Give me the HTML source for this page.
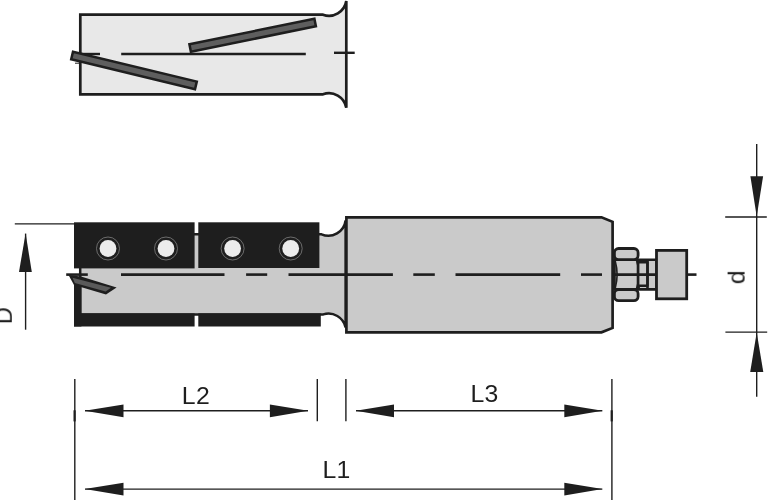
<!DOCTYPE html>
<html>
<head>
<meta charset="utf-8">
<title>Tool drawing</title>
<style>
html,body{margin:0;padding:0;background:#fff;}
body{width:779px;height:500px;overflow:hidden;font-family:"Liberation Sans",sans-serif;}
svg{display:block;}
text{font-family:"Liberation Sans",sans-serif;fill:#1e1e1e;}
</style>
</head>
<body>
<svg width="779" height="500" viewBox="0 0 779 500">
<rect width="779" height="500" fill="#ffffff"/>

<!-- ===== top view ===== -->
<g id="top">
  <path d="M80.3,14.7 H323 A17.6,17.6 0 0 0 346.3,1 V107.8 A17.6,17.6 0 0 0 323,94.3 H80.3 Z" fill="#e8e8e8" stroke="#1e1e1e" stroke-width="2.7" stroke-linejoin="miter"/>
  <g stroke="#1e1e1e" stroke-width="2.4" fill="none">
    <line x1="81" y1="54" x2="100" y2="54"/>
    <line x1="121.2" y1="54" x2="305.8" y2="54"/>
    <line x1="334" y1="52.8" x2="354.7" y2="52.8"/>
    <line x1="75" y1="63.2" x2="79" y2="63.2" stroke-width="1"/>
  </g>
  <polygon points="71.2,59.3 195.0,89.2 196.8,81.6 73.0,51.7" fill="#5e5e5e" stroke="#1e1e1e" stroke-width="2.5" stroke-linejoin="miter"/>
  <polygon points="190.9,51.8 315.9,26.2 314.4,18.7 189.4,44.3" fill="#5e5e5e" stroke="#1e1e1e" stroke-width="2.5" stroke-linejoin="miter"/>
</g>

<!-- ===== main side view ===== -->
<g id="main">
  <!-- cutter body -->
  <path d="M80.2,234.3 H321.5 A17.4,17.4 0 0 0 345.6,220.4 V327.4 A17.5,17.5 0 0 0 323.3,314.4 H80.2 Z" fill="#cacaca" stroke="#1e1e1e" stroke-width="2.5"/>
  <!-- shank -->
  <path d="M346.4,217.3 H601.5 L612.6,221.8 V327.9 L601.5,332.3 H346.4 Z" fill="#cacaca" stroke="#1e1e1e" stroke-width="2.7" stroke-linejoin="miter"/>
  <!-- white gap above body between blocks -->
  <!-- black blocks -->
  <rect x="74" y="222.3" width="120.6" height="46.1" fill="#1e1e1e"/>
  <rect x="198.3" y="222.3" width="121.1" height="45.7" fill="#1e1e1e"/>
  <rect x="74" y="313.4" width="120.6" height="13.1" fill="#1e1e1e"/>
  <rect x="198.3" y="313.4" width="122.5" height="13.1" fill="#1e1e1e"/>
  <rect x="74" y="284" width="7.4" height="42.5" fill="#1e1e1e"/>
  <!-- screws -->
  <g>
    <g fill="none" stroke="#8c8c8c" stroke-width="0.7">
      <circle cx="108" cy="248.5" r="11.5"/><circle cx="166" cy="248.5" r="11.5"/>
      <circle cx="232.6" cy="248.5" r="11.5"/><circle cx="290.7" cy="248.5" r="11.5"/>
    </g>
    <g fill="#ececec">
      <circle cx="108" cy="248.5" r="8.4"/><circle cx="166" cy="248.5" r="8.4"/>
      <circle cx="232.6" cy="248.5" r="8.4"/><circle cx="290.7" cy="248.5" r="8.4"/>
    </g>
  </g>
  <!-- centre line -->
  <g stroke="#1e1e1e" stroke-width="2.6" fill="none">
    <line x1="66.2" y1="274.6" x2="87.8" y2="274.6"/>
    <line x1="121" y1="274.6" x2="224.5" y2="274.6"/>
    <line x1="246.1" y1="274.6" x2="267.2" y2="274.6"/>
    <line x1="288.5" y1="274.6" x2="392.9" y2="274.6"/>
    <line x1="413.3" y1="274.6" x2="434.8" y2="274.6"/>
    <line x1="455.5" y1="274.6" x2="560.2" y2="274.6"/>
    <line x1="581" y1="274.6" x2="602" y2="274.6"/>
    <line x1="612" y1="274.6" x2="657" y2="274.6"/>
    <line x1="687" y1="274.6" x2="696.5" y2="274.6"/>
  </g>
  <!-- cutter tip -->
  <polygon points="68.5,275 81,276.4 116.6,287.5 106,294.4 74,285" fill="#1e1e1e"/>
  <polygon points="72.5,277.8 111,287.7 105.6,291.4 74.8,282.9" fill="#5a5a5a"/>

  <!-- nut -->
  <g stroke="#1e1e1e" stroke-width="2.8" fill="#cacaca" stroke-linejoin="round">
    <rect x="614.4" y="259.7" width="23.7" height="29.8" rx="1.5" ry="1.5"/>
    <rect x="614.4" y="248.5" width="23.7" height="11.2" rx="4.2" ry="4.2"/>
    <rect x="614.4" y="289.5" width="23.7" height="11.2" rx="4.2" ry="4.2"/>
    <path d="M615.2,261 Q619,274.6 615.2,288.2" fill="none" stroke-width="1.6"/>
    <path d="M636.8,261 Q641.6,274.6 636.8,288.2" fill="none" stroke-width="1.9"/>
    <!-- neck -->
    <rect x="638.6" y="259.8" width="18" height="29.6" stroke-width="2.6"/>
    <rect x="638.2" y="262.3" width="9.3" height="23.5" stroke-width="2.4"/>
    <line x1="647.5" y1="260" x2="647.5" y2="289.4" stroke-width="2.6"/>
    <!-- square -->
    <rect x="656.5" y="250.4" width="30.2" height="48.4" stroke-linejoin="miter"/>
  </g>
  <g stroke="#1e1e1e" stroke-width="2.6" fill="none">
    <line x1="613" y1="274.6" x2="657" y2="274.6"/>
  </g>
</g>

<!-- ===== dimensions ===== -->
<g id="dims" stroke="#1e1e1e" stroke-width="1.4" fill="none">
  <!-- D -->
  <line x1="14.8" y1="223.9" x2="75" y2="223.9"/>
  <line x1="25.6" y1="233.6" x2="25.6" y2="329.7"/>
  <!-- d -->
  <line x1="756.7" y1="143.9" x2="756.7" y2="396.7"/>
  <line x1="725.2" y1="217" x2="766.8" y2="217"/>
  <line x1="725.4" y1="332.1" x2="767.2" y2="332.1"/>
  <!-- L verticals -->
  <line x1="74.8" y1="379.1" x2="74.8" y2="500"/>
  <line x1="317.3" y1="379.1" x2="317.3" y2="421.2"/>
  <line x1="345.9" y1="379.1" x2="345.9" y2="421.2"/>
  <line x1="611.9" y1="379.1" x2="611.9" y2="500"/>
  <line x1="74.6" y1="410.3" x2="74.6" y2="421.4" stroke-width="2.2"/>
  <line x1="611.7" y1="410.3" x2="611.7" y2="421.4" stroke-width="2.2"/>
  <!-- L2 -->
  <line x1="85" y1="410.8" x2="308" y2="410.8"/>
  <!-- L3 -->
  <line x1="356" y1="410.8" x2="602.3" y2="410.8"/>
  <!-- L1 -->
  <line x1="85" y1="489.1" x2="602.3" y2="489.1"/>
</g>
<g id="arrows" fill="#1e1e1e">
  <polygon points="25.6,233.3 31.8,272 19,272"/>
  <polygon points="756.7,216.4 750.4,176.3 763.1,176.3"/>
  <polygon points="756.7,332.5 750.2,372 763.3,372"/>
  <polygon points="84.7,410.8 123.5,404.5 123.5,417.2"/>
  <polygon points="308.2,410.8 269.9,404.5 269.9,417.2"/>
  <polygon points="355.8,410.8 394,404.5 394,417.2"/>
  <polygon points="602.5,410.8 564.3,404.5 564.3,417.2"/>
  <polygon points="84.7,489.1 123.5,482.8 123.5,495.5"/>
  <polygon points="602.5,489.1 564.3,482.8 564.3,495.5"/>
</g>
<g id="labels" font-size="23.6" letter-spacing="0.4" opacity="0.999">
  <text transform="translate(181.7,403.9) scale(1.05,1)">L2</text>
  <text transform="translate(470.4,402.2) scale(1.05,1)">L3</text>
  <text transform="translate(322.4,478.3) scale(1.05,1)">L1</text>
  <text transform="translate(744.6,284.2) rotate(-90) scale(1.05,1)">d</text>
  <text transform="translate(11.8,324.2) rotate(-90)">D</text>
</g>
</svg>
</body>
</html>
